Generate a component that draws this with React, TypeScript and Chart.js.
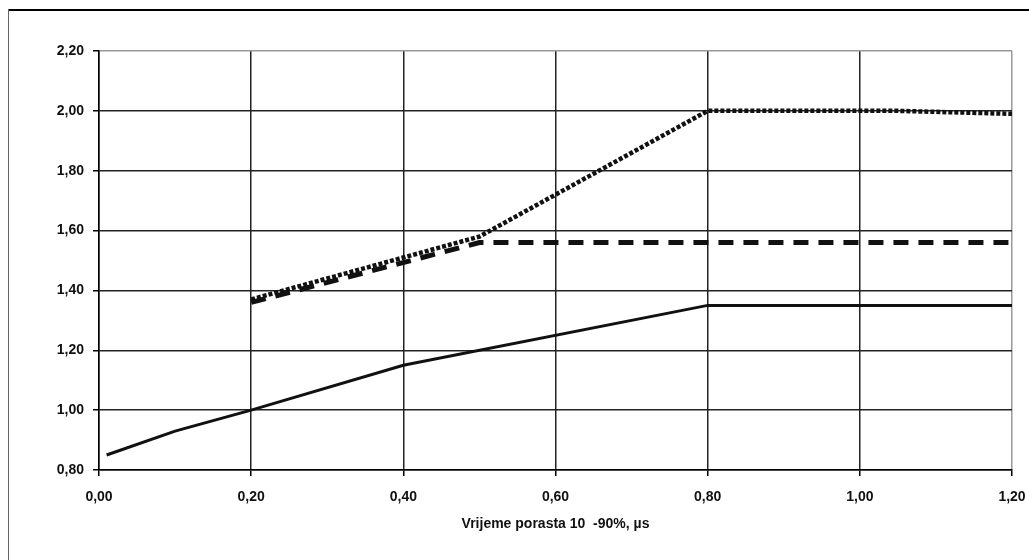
import React, { useEffect, useRef } from "react";
import { Chart, registerables } from "chart.js";

Chart.register(...registerables);

const solidX = [0.01, 0.1, 0.2, 0.4, 0.8, 1.2];
const solidY = [0.85, 0.93, 1.0, 1.15, 1.35, 1.35];

const dashedX = [0.2, 0.5, 1.2];
const dashedY = [1.36, 1.56, 1.56];

const dottedX = [0.2, 0.5, 0.8, 1.05, 1.2];
const dottedY = [1.37, 1.58, 2.0, 2.0, 1.99];

const xTicks = [0, 0.2, 0.4, 0.6, 0.8, 1.0, 1.2];
const yTicks = [0.8, 1.0, 1.2, 1.4, 1.6, 1.8, 2.0, 2.2];
const xTitle = "Vrijeme porasta 10  -90%, µs";

const fmt = (v: number) => v.toFixed(2).replace(".", ",");
const pts = (xs: number[], ys: number[]) => xs.map((x, i) => ({ x, y: ys[i] }));

export default function App() {
  const ref = useRef<HTMLCanvasElement | null>(null);
  useEffect(() => {
    document.documentElement.style.overflow = "hidden";
    document.body.style.overflow = "hidden";
    document.body.style.margin = "0";
    if (!ref.current) return;
    const font = { family: "'Liberation Sans', Arial, sans-serif", size: 14, weight: "bold" as const };
    const chart = new Chart(ref.current, {
      type: "line",
      data: {
        datasets: [
          {
            data: pts(solidX, solidY),
            borderColor: "#111",
            borderWidth: 3,
            pointRadius: 0,
            tension: 0,
          },
          {
            data: pts(dashedX, dashedY),
            borderColor: "#111",
            borderWidth: 5,
            borderDash: [15, 10],
            pointRadius: 0,
            tension: 0,
          },
          {
            data: pts(dottedX, dottedY),
            borderColor: "#111",
            borderWidth: 4.5,
            borderDash: [4, 2],
            pointRadius: 0,
            tension: 0,
          },
        ],
      },
      options: {
        animation: false,
        responsive: false,
        maintainAspectRatio: false,
        layout: { padding: { top: 51, right: 17, left: 0, bottom: 0 } },
        plugins: { legend: { display: false }, tooltip: { enabled: false } },
        scales: {
          x: {
            type: "linear",
            min: 0,
            max: 1.2,
            afterBuildTicks: (s: any) => {
              s.ticks = xTicks.map((v) => ({ value: v }));
            },
            afterFit: (s: any) => {
              s.height = 90;
              s.paddingLeft = 0;
              s.paddingRight = 0;
            },
            border: { color: "#000", width: 1.5 },
            grid: {
              color: (c: any) => (c.tick && Math.abs(c.tick.value - 1.2) < 1e-6 ? "#999" : "#222"),
              lineWidth: 1.5,
              tickLength: 6,
              tickColor: "#000",
            },
            ticks: {
              color: "#111",
              font,
              padding: 13,
              maxRotation: 0,
              callback: (v: any) => fmt(Number(v)),
            },
            title: {
              display: true,
              text: xTitle,
              color: "#111",
              font,
              padding: { top: 0, bottom: 27 },
            },
          },
          y: {
            type: "linear",
            min: 0.8,
            max: 2.2,
            afterBuildTicks: (s: any) => {
              s.ticks = yTicks.map((v) => ({ value: v }));
            },
            afterFit: (s: any) => {
              s.width = 99;
              s.paddingTop = 0;
              s.paddingBottom = 0;
            },
            border: { color: "#000", width: 1.5 },
            grid: {
              color: (c: any) => (c.tick && Math.abs(c.tick.value - 2.2) < 1e-6 ? "#999" : "#222"),
              lineWidth: 1.5,
              tickLength: 6,
              tickColor: "#000",
            },
            ticks: {
              color: "#111",
              font,
              padding: 9,
              callback: (v: any) => fmt(Number(v)),
            },
          },
        },
      },
    });
    return () => chart.destroy();
  }, []);
  return (
    <div style={{ position: "fixed", left: 0, top: 0, width: 1029, height: 560, background: "#fff" }}>
      <canvas ref={ref} width={1029} height={560} style={{ display: "block", position: "absolute", left: 0, top: 0 }} />
      <div style={{ position: "absolute", left: 8, top: 9, width: 1021, height: 2, background: "#000" }} />
      <div style={{ position: "absolute", left: 8, top: 9, width: 1, height: 551, background: "#666" }} />
    </div>
  );
}
